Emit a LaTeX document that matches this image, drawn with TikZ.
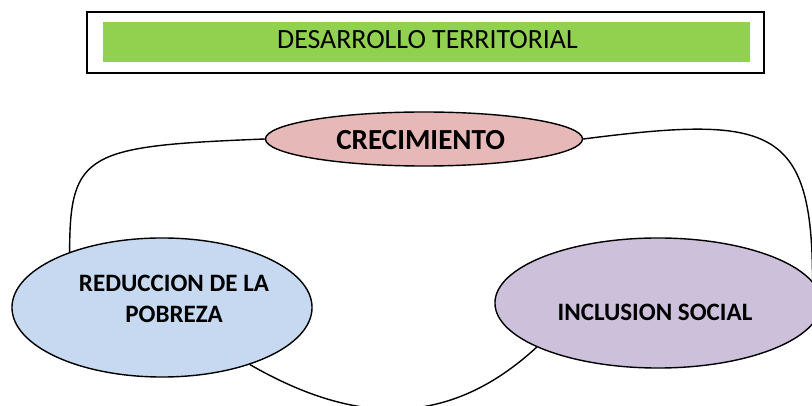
\documentclass[tikz,border=0pt]{standalone}
\usepackage{fontspec}
\setmainfont{Carlito}
\usetikzlibrary{
    shapes.geometric
}
\definecolor{barverde}{HTML}{92D050}
\definecolor{rosa}{HTML}{E6B9B8}
\definecolor{azul}{HTML}{C6D9F1}
\definecolor{lila}{HTML}{CCC0DA}
\tikzset{
    burbuja/.style={ellipse, draw, line width=1pt, inner sep=0pt},
    textoburbuja/.style={font=\bfseries\fontsize{17.8}{22}\selectfont, align=center},
    enlace/.style={line width=1pt}
}

\begin{document}
\begin{tikzpicture}[x=0.025cm, y=-0.025cm]
    % Fix the page to the size of the figure
    \clip (0,0) rectangle (812,406);

    % Draw title frame and green bar
    \draw[line width=1.5pt] (87,12) rectangle (764,73);
    \fill[barverde] (103,22) rectangle (750,62);
    \node[anchor=base, font=\fontsize{19.8}{24}\selectfont] (titulo) at (427.5,49) {DESARROLLO TERRITORIAL};

    % Draw the three ellipses
    \node[burbuja, fill=rosa, minimum width=7.925cm, minimum height=1.35cm] (crec) at (424,139) {};
    \node[burbuja, fill=azul, minimum width=7.5cm, minimum height=3.475cm] (red) at (162,307.5) {};
    \node[burbuja, fill=lila, minimum width=8.15cm, minimum height=3.25cm] (inc) at (658,303) {};

    % Add labels for the ellipses
    \node[textoburbuja, anchor=base, font=\bfseries\fontsize{20.7}{24}\selectfont] (crectxt) at (420.6,150) {CRECIMIENTO};
    \node[textoburbuja] (redtxt) at (174,299) {REDUCCION DE LA\\POBREZA};
    \node[textoburbuja, anchor=base] (inctxt) at (655,320.7) {INCLUSION SOCIAL};

    % Draw curved links between the ellipses
    \draw[enlace] (crec.west) .. controls +(-177,7) and +(0,-100) .. (red.149);
    \draw[enlace] (crec.east) .. controls +(187,-24) and +(0,-156) .. (inc.8);
    \draw[enlace] (red.-33) .. controls +(106,61) and +(-88,81) .. (inc.200);
\end{tikzpicture}
\end{document}
